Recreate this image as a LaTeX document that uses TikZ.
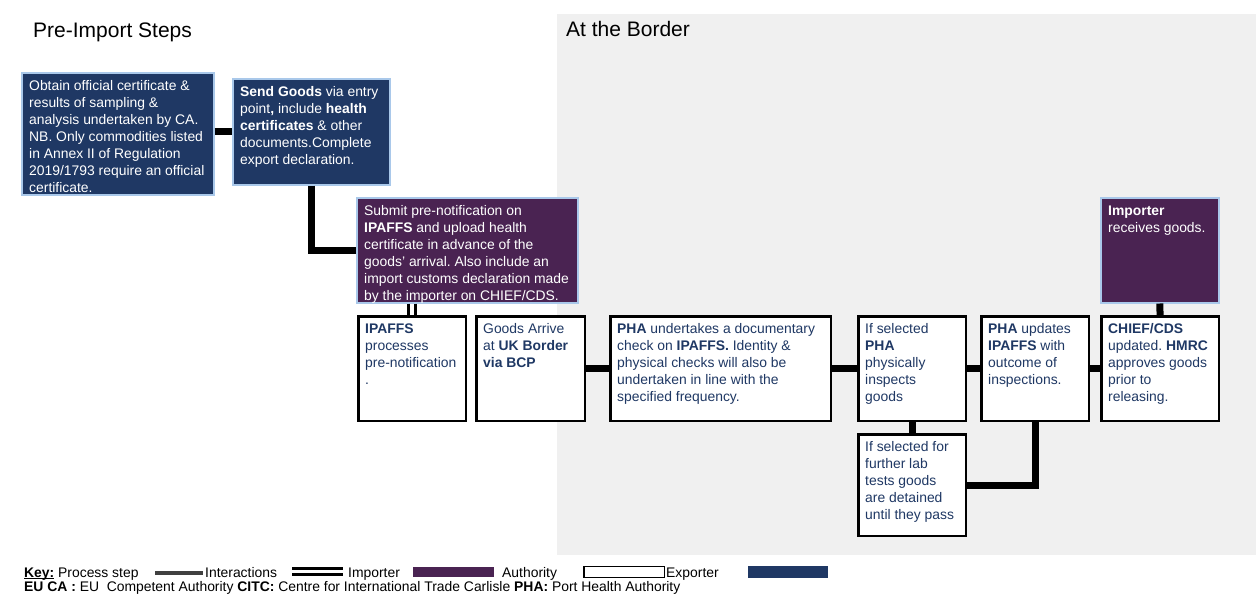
\documentclass[tikz,border=0pt]{standalone}
\usepackage{fontspec}
\setmainfont{Liberation Sans}
\usetikzlibrary{calc}
\definecolor{navy}{HTML}{1F3864}
\definecolor{impurple}{HTML}{4A2352}
\definecolor{lblue}{HTML}{A9C8EA}
\definecolor{bggray}{HTML}{F0F0F0}
\definecolor{keygray}{HTML}{404040}
\newcommand{\mybox}[8]{%
  \node[#1, minimum width={#5-2.5}, minimum height={#6-2.5}, anchor=north west] (#2) at (#3,#4) {};
  \node[#7] (#2t) at ([shift={(8,6.6)}]#2.north west) {\strut #8};}
\newcommand{\myul}[1]{\setbox0=\hbox{#1}\rlap{\rule[-1.9pt]{\wd0}{1pt}}\box0\relax}
\begin{document}
\frenchspacing
\begin{tikzpicture}[x=1pt,y=-1pt,
  conn/.style={line width=7pt, draw=black},
  navybox/.style={draw=lblue, line width=2pt, fill=navy, inner sep=0pt},
  purbox/.style={draw=lblue, line width=2pt, fill=impurple, inner sep=0pt},
  whitebox/.style={draw=black, line width=2.7pt, fill=white, inner sep=0pt},
  wtext/.style={text=white, font=\fontsize{13.9}{17}\selectfont, align=left, inner sep=0pt, anchor=north west},
  ntext/.style={text=navy, font=\fontsize{13.9}{17}\selectfont, align=left, inner sep=0pt, anchor=north west},
  titletext/.style={font=\fontsize{21}{24}\selectfont, anchor=base west, inner sep=0pt},
  keytext/.style={font=\fontsize{13.9}{15}\selectfont, anchor=base west, inner sep=0pt},
]
\useasboundingbox (0,0) rectangle (1256,594);
\fill[bggray] (557,14) rectangle (1256,555);

\node[titletext] (t1) at (33,37.5) {Pre-Import Steps};
\node[titletext] (t2) at (566,37) {At the Border};

\mybox{navybox}{a}{21}{72}{194}{124}{wtext}{Obtain official certificate \&\\ results of sampling \&\\ analysis undertaken by CA.\\ NB. Only commodities listed\\ in Annex II of Regulation\\ 2019/1793 require an official\\ certificate.}
\mybox{navybox}{b}{232}{78}{159}{108}{wtext}{\textbf{Send Goods} via entry\\ point\textbf{,} include \textbf{health}\\ \textbf{certificates} \& other\\ documents.Complete\\ export declaration.}
\mybox{purbox}{c}{356}{197}{223}{107}{wtext}{Submit pre-notification on\\ \textbf{IPAFFS} and upload health\\ certificate in advance of the\\ goods' arrival. Also include an\\ import customs declaration made\\ by the importer on CHIEF/CDS.}
\mybox{whitebox}{d}{357}{315}{110}{107}{ntext}{\textbf{IPAFFS}\\ processes\\ pre-notification\\ .}
\mybox{whitebox}{e}{475}{315}{111}{107}{ntext}{Goods Arrive\\ at \textbf{UK Border}\\ \textbf{via BCP}}
\mybox{whitebox}{f}{609}{315}{223}{107}{ntext}{\textbf{PHA} undertakes a documentary\\ check on \textbf{IPAFFS.} Identity \&\\ physical checks will also be\\ undertaken in line with the\\ specified frequency.}
\mybox{whitebox}{g}{857}{315}{110}{107}{ntext}{If selected\\ \textbf{PHA}\\ physically\\ inspects\\ goods}
\mybox{whitebox}{h}{980}{315}{110}{107}{ntext}{\textbf{PHA} updates\\ \textbf{IPAFFS} with\\ outcome of\\ inspections.}
\mybox{whitebox}{i}{1100}{315}{120}{107}{ntext}{\textbf{CHIEF/CDS}\\ updated. \textbf{HMRC}\\ approves goods\\ prior to\\ releasing.}
\mybox{purbox}{j}{1100}{197}{120}{107}{wtext}{\textbf{Importer}\\ receives goods.}
\mybox{whitebox}{k}{857}{433}{110}{104}{ntext}{If selected for\\ further lab\\ tests goods\\ are detained\\ until they pass}

% connectors
\draw[conn] (a.east |- b.west) -- (b.west);
\draw[conn] (b.south) |- (c.west);
\draw[line width=3.3pt] ([xshift=-3.5pt]c.south -| d.north) -- ([xshift=-3.5pt]d.north);
\draw[line width=3.3pt] ([xshift=3.5pt]c.south -| d.north) -- ([xshift=3.5pt]d.north);
\draw[conn] (e.east) -- (f.west);
\draw[conn] (f.east) -- (g.west);
\draw[conn] (g.east) -- (h.west);
\draw[conn] (h.east) -- (i.west);
\draw[conn] (g.south) -- (k.north);
\draw[conn] (k.east) -| (h.south);
\draw[conn] (j.south) -- (i.north);

% key
\node[keytext] (k1) at (24,577) {\myul{\textbf{Key:}} Process step};
\fill[keygray] (155,570.5) rectangle (203,574.8);
\node[keytext] (k2) at (205,577) {Interactions};
\fill[black] (292,567.3) rectangle (343,570);
\fill[black] (292,573.3) rectangle (343,576);
\node[keytext] (k3) at (348,577) {Importer};
\fill[impurple] (413,567) rectangle (494,577);
\node[keytext] (k4) at (502,577) {Authority};
\draw[black, line width=1.5pt, fill=white] (584,566.5) rectangle (664.5,577.5);
\node[keytext] (k5) at (666,577) {Exporter};
\fill[navy] (748,566) rectangle (828,578);
\node[keytext] (k6) at (24,591.3) {\textbf{EU CA :} EU~ Competent Authority \textbf{CITC:} Centre for International Trade Carlisle \textbf{PHA:} Port Health Authority};
\end{tikzpicture}
\end{document}
